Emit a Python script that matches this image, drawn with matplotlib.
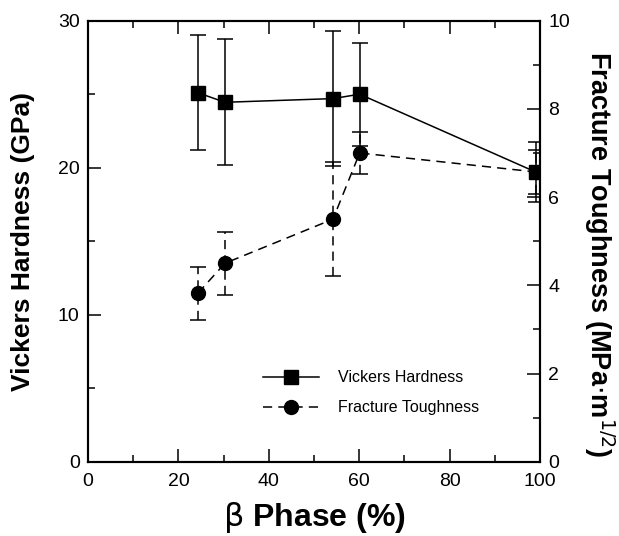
import matplotlib
matplotlib.use("Agg")
import matplotlib.pyplot as plt
from matplotlib.ticker import MultipleLocator
from matplotlib.lines import Line2D

plt.rcParams['font.family'] = ['Liberation Sans', 'DejaVu Sans']

beta_phase = [24.3, 30.3, 54.2, 60.1, 99.1]
hardness = [25.1, 24.45, 24.7, 25.0, 19.7]
hardness_err = [3.9, 4.3, 4.6, 3.5, 2.05]
toughness = [3.82, 4.5, 5.5, 7.0, 6.57]
toughness_err = [0.6, 0.71, 1.3, 0.48, 0.5]

fig = plt.figure(figsize=(6.19, 5.36), dpi=100)
ax = fig.add_axes([0.1422, 0.1386, 0.7302, 0.8228])
ax2 = ax.twinx()

dash = (0, (6, 4))

# toughness (right axis)
eb2 = ax2.errorbar(beta_phase, toughness, yerr=toughness_err, color='black',
                   marker='o', markersize=10, linestyle=dash, linewidth=1.1,
                   capsize=6, capthick=1.1, elinewidth=1.1)
for lc in eb2[2]:
    lc.set_linestyle(dash)

# hardness (left axis), drawn on top
ax.set_zorder(ax2.get_zorder() + 1)
ax.patch.set_visible(False)
ax.errorbar(beta_phase, hardness, yerr=hardness_err, color='black',
            marker='s', markersize=10.5, linestyle='-', linewidth=1.1,
            capsize=6, capthick=1.1, elinewidth=1.1)

ax.set_xlim(0, 100)
ax.set_ylim(0, 30)
ax2.set_ylim(0, 10)

ax.xaxis.set_major_locator(MultipleLocator(20))
ax.xaxis.set_minor_locator(MultipleLocator(10))
ax.yaxis.set_major_locator(MultipleLocator(10))
ax.yaxis.set_minor_locator(MultipleLocator(5))
ax2.yaxis.set_major_locator(MultipleLocator(2))
ax2.yaxis.set_minor_locator(MultipleLocator(1))

ax.tick_params(axis='x', which='both', direction='in', top=True, bottom=True, labelsize=14, pad=8)
ax.tick_params(axis='y', which='both', direction='in', left=True, right=False, labelsize=14, pad=6)
ax.tick_params(which='major', length=9.5, width=1.1)
ax.tick_params(which='minor', length=5, width=1.1)
ax2.tick_params(axis='y', which='both', direction='in', labelsize=14, pad=6)
ax2.tick_params(which='major', length=9.5, width=1.1)
ax2.tick_params(which='minor', length=5, width=1.1)

for a in (ax, ax2):
    for s in a.spines.values():
        s.set_linewidth(1.5)

ax.set_xlabel(r'$\mathrm{\beta}$ Phase (%)', fontsize=23, fontweight='bold', va='center')
ax.xaxis.set_label_coords(0.5, -0.127)
ax.set_ylabel('Vickers Hardness (GPa)', fontsize=19, fontweight='bold', va='center')
ax.yaxis.set_label_coords(-0.144, 0.5)
ax2.set_ylabel(r'Fracture Toughness (MPa$\cdot$m$^{1/2}$)', fontsize=19.5, fontweight='bold',
               rotation=270, va='center')
ax2.yaxis.set_label_coords(1.131, 0.47)

handles = [
    Line2D([], [], color='black', marker='s', markersize=10.5, linestyle='-', linewidth=1.1),
    Line2D([], [], color='black', marker='o', markersize=10, linestyle=dash, linewidth=1.1),
]
ax.legend(handles, ['Vickers Hardness', 'Fracture Toughness'], frameon=False,
          loc='center left', bbox_to_anchor=(0.387, 0.1565), fontsize=11.5,
          handlelength=3.5, handletextpad=1.2, labelspacing=0.95,
          borderpad=0, borderaxespad=0)

fig.savefig('out.png', dpi=100)
